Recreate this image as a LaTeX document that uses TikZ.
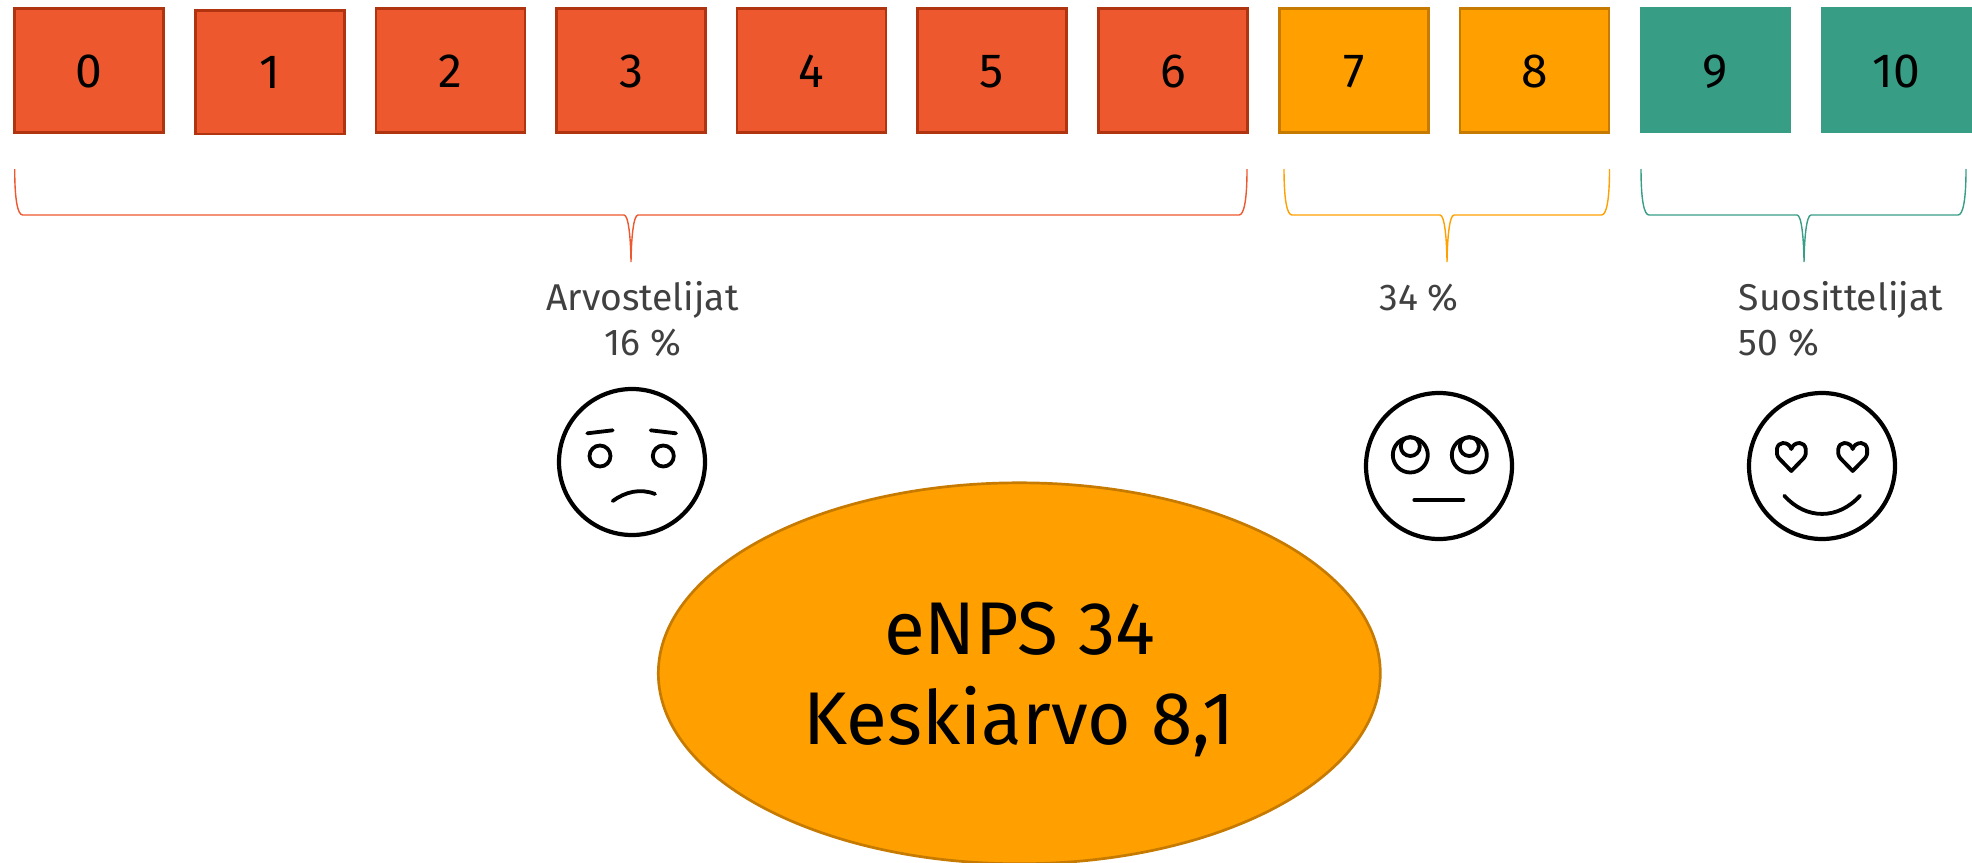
\documentclass[tikz,border=0pt]{standalone}
\usetikzlibrary{shapes.geometric}
\usepackage{fontspec}
\setmainfont{Fira Sans}
\definecolor{redf}{HTML}{EE582E}
\definecolor{redd}{HTML}{B0340F}
\definecolor{orf}{HTML}{FFA000}
\definecolor{ord}{HTML}{C67A00}
\definecolor{grf}{HTML}{379D85}
\definecolor{lab}{HTML}{404040}
\tikzset{
  x=1pt,y=-1pt,
  scorebox/.style={rectangle,minimum width=#1,minimum height=123.5pt,inner sep=0pt,line width=2.7pt,font=\fontsize{48}{48}\selectfont,text=black,text height=33.4pt,text depth=0pt},
  redbox/.style={scorebox=149pt,fill=redf,draw=redd},
  orbox/.style={scorebox=149pt,fill=orf,draw=ord},
  grbox/.style={scorebox=151.5pt,fill=grf,minimum height=126pt,line width=0pt},
  lbl/.style={text=lab,font=\fontsize{37.3}{45}\selectfont,inner sep=0pt,align=center,anchor=base},
  face/.style={circle,draw=black,line width=4.2pt,minimum size=146pt,inner sep=0pt},
  fl/.style={draw=black,line width=3.8pt,line cap=round,line join=round},
  brc/.style={line width=1.4pt},
}
\newcommand{\mybrace}[4]{%
  \draw[brc,draw=#4] (#1,169) .. controls (#1,200) and (#1+3,215) .. (#1+8,215)
    -- (#3-7,215) .. controls (#3-2.5,215) and (#3-0.3,238) .. (#3,262)
    .. controls (#3+0.3,238) and (#3+2.5,215) .. (#3+7,215)
    -- (#2-8,215) .. controls (#2-3,215) and (#2,200) .. (#2,169);}
\begin{document}
\begin{tikzpicture}
\useasboundingbox (0,0) rectangle (1972,862);
\node[redbox] (b0) at (89.2,70.4) {0};
\node[redbox] (b1) at (270,72.2) {1};
\node[redbox] (b2) at (450.5,70.4) {2};
\node[redbox] (b3) at (631,70.4) {3};
\node[redbox] (b4) at (811.5,70.4) {4};
\node[redbox] (b5) at (992,70.4) {5};
\node[redbox] (b6) at (1173,70.4) {6};
\node[orbox] (b7) at (1354,70.4) {7};
\node[orbox] (b8) at (1534.5,70.4) {8};
\node[grbox] (b9) at (1715.5,70.4) {9};
\node[grbox] (b10) at (1896.5,70.4) {10};
\mybrace{14.7}{1247}{631}{redf}
\mybrace{1284}{1609.5}{1447}{orf}
\mybrace{1641}{1966}{1804}{grf}
\node[lbl] (t1) at (642.5,355) {Arvostelijat\\16 \%};
\node[lbl] (t2) at (1419,310) {34 \%};
\node[lbl,align=left,anchor=base west] (t3) at (1738.6,355) {Suosittelijat\\50 \%};
\node[face] (f1) at (632,462) {};
\draw[fl] (587.3,433.3) -- (612.7,430.3);
\draw[fl] (650.7,430.3) -- (676,433.3);
\draw[fl] (600,456) circle (10.5);
\draw[fl] (663.3,456) circle (10.5);
\draw[fl] (612.7,501) .. controls (625,492) and (640,488) .. (655,494);
\node[face] (f2) at (1439,466) {};
\draw[fl] (1410.3,455) circle (17.5);
\draw[fl] (1469.3,455) circle (17.5);
\draw[fl] (1410.3,446.5) circle (9.5);
\draw[fl] (1469.3,446.5) circle (9.5);
\draw[fl] (1414.3,500) -- (1463.3,500);
\node[face] (f3) at (1822,466) {};
\foreach \c in {1791.3,1852.7}{
  \draw[fl] (\c,471) -- (\c-12.3,458.3) .. controls (\c-16.5,453.5) and (\c-15,443) .. (\c-8.5,443)
    .. controls (\c-4,443) and (\c-1,445.5) .. (\c,449)
    .. controls (\c+1,445.5) and (\c+4,443) .. (\c+8.5,443)
    .. controls (\c+15,443) and (\c+16.5,453.5) .. (\c+12.3,458.3) -- cycle;
}
\draw[fl] (1784.3,495.7) .. controls (1806,520) and (1838,520) .. (1860,495.7);
\node[ellipse,draw=ord,fill=orf,line width=2.7pt,minimum width=722pt,minimum height=381pt,inner sep=0pt] (e) at (1019.3,673.3) {};
\node[anchor=base,align=center,inner sep=0pt,font=\fontsize{74.7}{90}\selectfont,text=black] (etext) at (1019.5,744) {eNPS 34\\Keskiarvo 8,1};
\end{tikzpicture}
\end{document}
